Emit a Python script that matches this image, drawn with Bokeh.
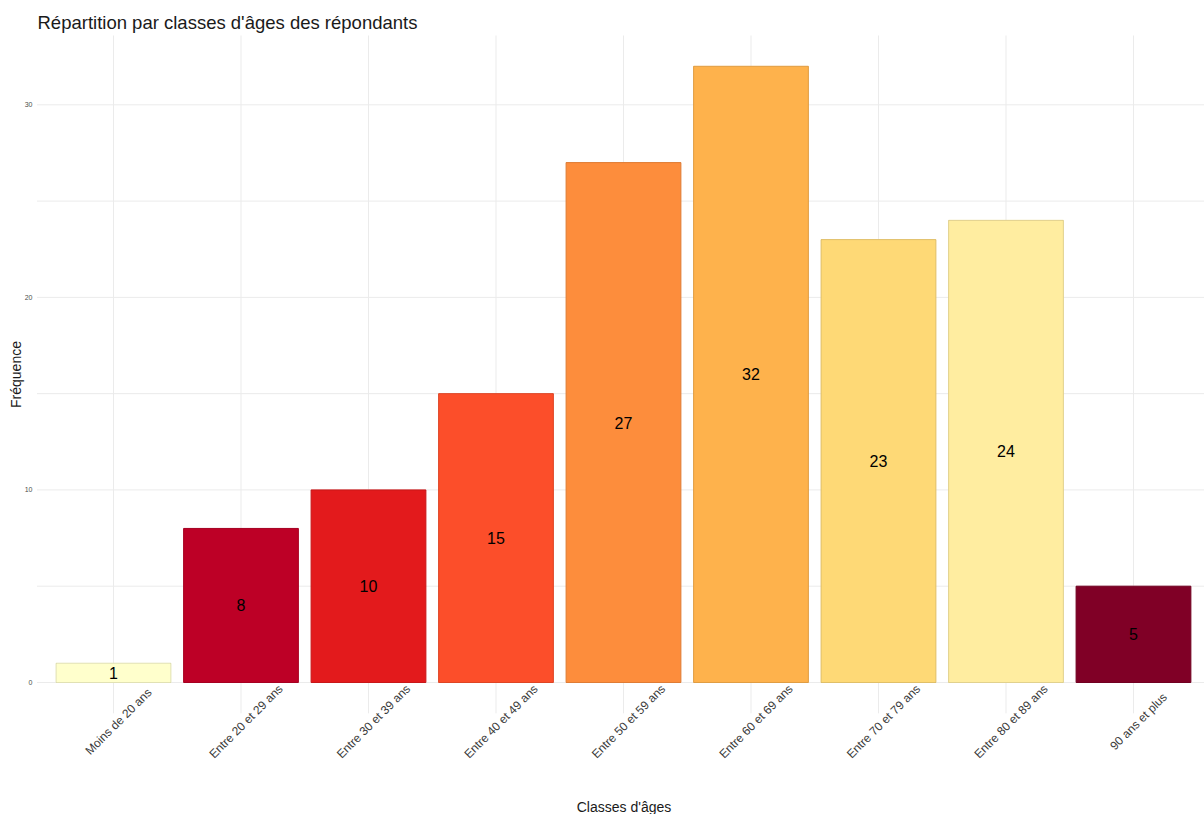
from bokeh.plotting import figure
from bokeh.models import Range1d, ColumnDataSource
from bokeh.core.properties import value
from bokeh.embed import file_html
from bokeh.resources import INLINE
import math

categories = ["Moins de 20 ans", "Entre 20 et 29 ans", "Entre 30 et 39 ans",
              "Entre 40 et 49 ans", "Entre 50 et 59 ans", "Entre 60 et 69 ans",
              "Entre 70 et 79 ans", "Entre 80 et 89 ans", "90 ans et plus"]
counts = [1, 8, 10, 15, 27, 32, 23, 24, 5]
colors = ["#FFFFCC", "#BD0026", "#E31A1C", "#FC4E2A", "#FD8D3C",
          "#FEB24C", "#FED976", "#FFEDA0", "#800026"]
y_ticks = [0, 10, 20, 30]
y_minor = [5, 15, 25]
title = "Répartition par classes d'âges des répondants"
x_title = "Classes d'âges"
y_title = "Fréquence"

FONT = "Liberation Sans"
GRID = "#EBEBEB"
W, H = 1204, 814

# plot-area layout (pixels) -> data scale
X_LO, X_HI = 0.4, 9.557          # x data range of the plotting area
Y_LO, Y_HI = -1.6, 33.6          # y data range of the plotting area
PX_LEFT, PX_RIGHT = 36.5, 1204.0
PX_TOP, PX_BOTTOM = 35.0, 712.8

sx = (X_HI - X_LO) / (PX_RIGHT - PX_LEFT)     # data per pixel
sy = (Y_HI - Y_LO) / (PX_BOTTOM - PX_TOP)


def dx(px):
    return X_LO + (px - PX_LEFT) * sx


def dy(py):
    return Y_LO + (PX_BOTTOM - py) * sy


p = figure(width=W, height=H, output_backend="svg", toolbar_location=None,
           x_range=Range1d(dx(0), dx(W)), y_range=Range1d(dy(H), dy(0)),
           min_border=0, min_border_left=0, min_border_right=0,
           min_border_top=0, min_border_bottom=0)
p.outline_line_color = None
p.background_fill_color = "white"
p.xaxis.visible = False
p.yaxis.visible = False
p.xgrid.visible = False
p.ygrid.visible = False

xs = list(range(1, len(categories) + 1))

# grid lines restricted to the plotting area
p.segment(x0=xs, x1=xs, y0=[Y_LO] * len(xs), y1=[Y_HI] * len(xs),
          line_color=GRID, line_width=1)
hy = y_ticks + y_minor
p.segment(x0=[X_LO] * len(hy), x1=[X_HI] * len(hy), y0=hy, y1=hy,
          line_color=GRID, line_width=1)

src = ColumnDataSource(dict(x=xs, top=counts, mid=[c / 2 for c in counts],
                            lab=[str(c) for c in counts], color=colors))

p.vbar(x="x", top="top", bottom=0, width=0.9, fill_color="color",
       line_color="color", source=src)
p.vbar(x="x", top="top", bottom=0, width=0.9, fill_alpha=0,
       line_color="black", line_alpha=0.12, source=src)

p.text(x="x", y="mid", text="lab", source=src, text_align="center",
       text_baseline="middle", text_font_size="16px", text_color="black",
       text_font=value(FONT))

# category labels, rotated 45 degrees below the plotting area
cat_src = ColumnDataSource(dict(x=[x + 5 * sx for x in xs],
                                y=[dy(721)] * len(xs), name=categories))
p.text(x="x", y="y", text="name", source=cat_src, angle=math.pi / 4,
       text_align="center", text_baseline="middle", text_font_size="12px",
       text_color="#3a3a3a", text_font=value(FONT))

# y tick labels
yt_src = ColumnDataSource(dict(x=[dx(32)] * len(y_ticks), y=y_ticks,
                               t=[str(v) for v in y_ticks]))
p.text(x="x", y="y", text="t", source=yt_src, text_align="right",
       text_baseline="middle", text_font_size="7px", text_color="#4D4D4D",
       text_font=value(FONT))

# titles
p.text(x=[dx(37)], y=[dy(22)], text=[title], text_align="left",
       text_baseline="middle", text_font_size="18.5px", text_color="#1a1a1a",
       text_font=value(FONT))
p.text(x=[dx(623.5)], y=[dy(806)], text=[x_title], text_align="center",
       text_baseline="middle", text_font_size="14px", text_color="#1a1a1a",
       text_font=value(FONT))
p.text(x=[dx(15)], y=[dy(374)], text=[y_title], angle=math.pi / 2,
       text_align="center", text_baseline="middle", text_font_size="14px",
       text_color="#1a1a1a", text_font=value(FONT))

open("out.html", "w").write(file_html(p, INLINE))
